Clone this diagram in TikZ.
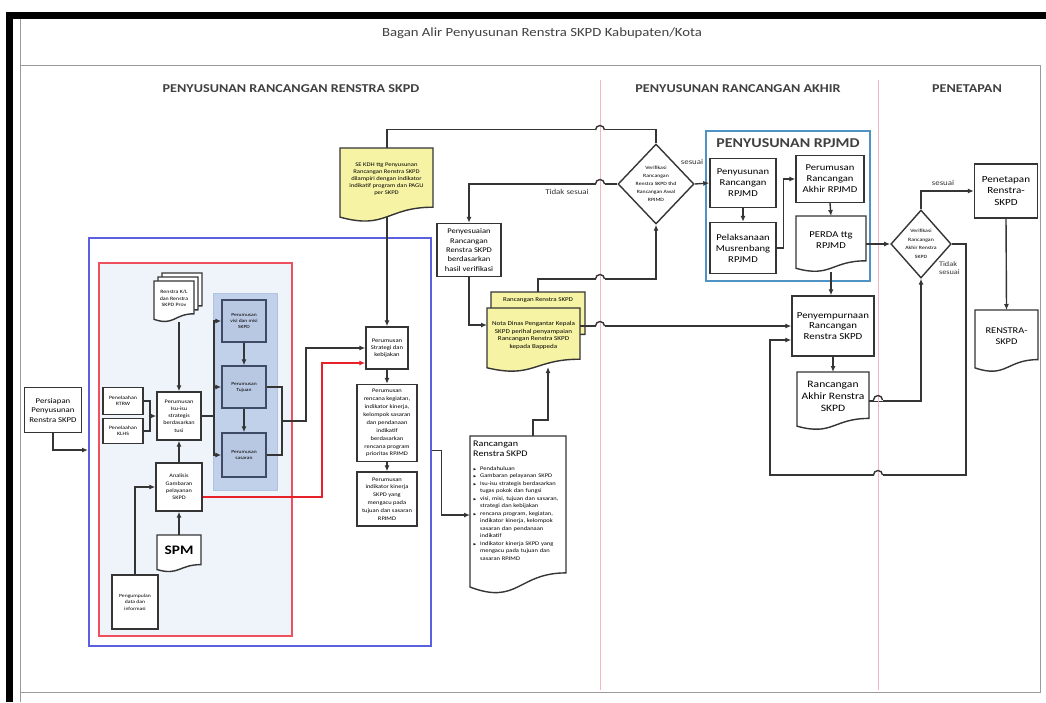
\documentclass[tikz,border=0pt]{standalone}
\usepackage{fontspec}
\setmainfont{Carlito}[FakeStretch=1.18]
\usepackage{amssymb}
\usepackage{graphicx}
\usetikzlibrary{arrows.meta,calc,shapes.geometric}
\definecolor{lnc}{HTML}{353535}
\definecolor{pinkln}{HTML}{F2B8C2}
\definecolor{bluec}{HTML}{5A60E0}
\definecolor{redc}{HTML}{F0505E}
\definecolor{redln}{HTML}{E8202A}
\definecolor{lightfill}{HTML}{EEF4FA}
\definecolor{panelfill}{HTML}{C2D1EA}
\definecolor{panelln}{HTML}{B0C3E2}
\definecolor{innerfill}{HTML}{B9C8E2}
\definecolor{innerln}{HTML}{3E4A66}
\definecolor{yellowfill}{HTML}{F7F3A4}
\definecolor{rpjmdln}{HTML}{4F92C4}
\definecolor{titlec}{HTML}{404040}
\definecolor{framegray}{HTML}{9A9A9A}
\newcommand\fsz[2]{\fontsize{#1}{#2}\selectfont}
\newcommand\docshape[8]{%
  \pgfmathsetmacro\dH{min(#5-#3,1.1*(#4-#2))}%
  \path[docline, fill=#6] (#2,#3) -- (#4,#3) -- (#4,{#5-0.2*\dH})
    .. controls ({(#2+#4)/2},{#5-0.2*\dH}) and ({(#2+#4)/2},{#5+0.107*\dH}) ..
    (#2,{#5-0.066*\dH}) -- cycle;
  \node[inner sep=0, outer sep=0, minimum width={(#4-#2)*1pt}, minimum height={(#5-#3)*1pt}, anchor=north west] (#1) at (#2,#3) {};
  \node[align=center, inner sep=0, font=#7] (#1-t) at ({(#2+#4)/2},{(#3+#5-0.15*\dH)/2}) {#8};
}
\newcommand\hop[2]{%
  \fill[white] ({#1-4.5},{#2-1.2}) rectangle ({#1+4.5},{#2+1.2});
  \draw[pinkln, line width=0.8pt] (#1,{#2-2}) -- (#1,{#2+2});
  \draw[lnk] ({#1-4.5},#2) arc (180:360:4.5);
}
\newcommand\bul{\hangindent=7pt\hangafter=1\noindent\makebox[7pt][l]{\scalebox{0.6}{$\blacktriangleright$}}}
\tikzset{
  lnk/.style={draw=lnc, line width=1.4pt},
  arr/.style={lnk, -{Latex[length=6pt,width=5pt]}},
  arrred/.style={draw=redln, line width=1.4pt, -{Latex[length=6pt,width=5pt]}},
  box/.style={draw=lnc, line width=1.4pt, fill=white, align=center, inner sep=1pt},
  pbox/.style={box, fill=innerfill, draw=innerln},
  docline/.style={draw=lnc, line width=1.4pt},
  lbl/.style={font=\fsz{7.5}{8.5}, inner sep=1pt, text=lnc, align=left},
  head/.style={font=\bfseries\fsz{12}{14}, text=titlec},
  dia/.style={diamond, draw=lnc, line width=1.4pt, fill=white, inner sep=0, align=center},
}
\begin{document}
\begin{tikzpicture}[x=1pt,y=-1pt]
\useasboundingbox (0,0) rectangle (1046,702);
\fill[white] (0,0) rectangle (1046,702);
% outer frame
\fill[black] (6,12) rectangle (1046,19);
\fill[black] (6,12) rectangle (13,702);
\draw[framegray, line width=0.8pt] (20,19) -- (20,702);
\draw[framegray, line width=0.8pt] (20,65) rectangle (1040,692);
\node[font=\fsz{12.5}{14}, text=titlec] (title) at (542,33) {Bagan Alir Penyusunan Renstra SKPD Kabupaten/Kota};
% headings
\node[head] (h1) at (291,89) {PENYUSUNAN RANCANGAN RENSTRA SKPD};
\node[head] (h2) at (738,89) {PENYUSUNAN RANCANGAN AKHIR};
\node[head] (h3) at (967,89) {PENETAPAN};
\draw[pinkln, line width=0.8pt] (600,80) -- (600,690);
\draw[pinkln, line width=0.8pt] (878,80) -- (878,690);

% frames
\node[draw=bluec, line width=1.5pt, minimum width=342pt, minimum height=408pt, anchor=north west, inner sep=0] (blueframe) at (88,237) {};
\node[draw=redc, fill=lightfill, line width=1.5pt, minimum width=193pt, minimum height=373pt, anchor=north west, inner sep=0] (redframe) at (98,262) {};
\node[fill=panelfill, draw=panelln, minimum width=64pt, minimum height=197pt, anchor=north west, inner sep=0] (panel) at (213,293) {};

% left part
\node[box, minimum width=57pt, minimum height=45pt, font=\fsz{7.4}{9.5}] (persiapan) at (53,410) {Persiapan\\Penyusunan\\Renstra SKPD};
\docshape{rkl3}{162}{273}{202}{314}{white}{}{}
\docshape{rkl2}{158}{277}{198}{318}{white}{}{}
\docshape{rkl}{154}{281}{194}{322}{white}{\fsz{5}{6.4}}{Renstra K/L\\dan Renstra\\SKPD Prov}
\node[box, minimum width=40pt, minimum height=27pt, font=\fsz{5}{6.5}] (rtrw) at (123,401) {Penelaahan\\RTRW};
\node[box, minimum width=40pt, minimum height=25pt, font=\fsz{5}{6.5}] (klhs) at (123,431) {Penelaahan\\KLHS};
\node[box, minimum width=44pt, minimum height=48pt, font=\fsz{5.3}{7.3}] (isu) at (179,416) {Perumusan\\Isu-isu\\strategis\\berdasarkan\\tusi};
\node[box, minimum width=46pt, minimum height=48pt, font=\fsz{5.3}{7.3}] (analisis) at (179,487) {Analisis\\Gambaran\\pelayanan\\SKPD};
\docshape{spm}{157}{535}{201}{572}{white}{\bfseries\fsz{13}{14}}{SPM}
\node[box, minimum width=46pt, minimum height=54pt, font=\fsz{4.8}{6.5}] (pengumpulan) at (135,602) {Pengumpulan\\data dan\\informasi};
\node[pbox, minimum width=44pt, minimum height=42pt, font=\fsz{4.7}{6.2}] (visi) at (244,321) {Perumusan\\visi dan misi\\SKPD};
\node[pbox, minimum width=44pt, minimum height=42pt, font=\fsz{4.7}{6.2}] (tujuan) at (244,387) {Perumusan\\Tujuan};
\node[pbox, minimum width=44pt, minimum height=44pt, font=\fsz{4.7}{6.2}] (sasaran) at (244,455) {Perumusan\\sasaran};

\node[box, minimum width=42pt, minimum height=42pt, font=\fsz{5.6}{7}] (strategi) at (387,348) {Perumusan\\Strategi dan\\kebijakan};
\node[box, minimum width=60pt, minimum height=77pt, font=\fsz{5.5}{7.9}] (rencana) at (387,423) {Perumusan\\rencana kegiatan,\\indikator kinerja,\\kelompok sasaran\\dan pendanaan\\indikatif\\berdasarkan\\rencana program\\prioritas RPJMD};
\node[box, minimum width=60pt, minimum height=54pt, font=\fsz{5.5}{7.9}] (indikator) at (387,499) {Perumusan\\indikator kinerja\\SKPD yang\\mengacu pada\\tujuan dan sasaran\\RPJMD};

% middle
\node[dia, minimum width=74pt, minimum height=80pt, font=\fsz{4.9}{8}] (d1) at (656,184) {Verifikasi\\Rancangan\\Renstra SKPD thd\\Rancangan Awal\\RPJMD};
\draw[arr] (d1.north) -- ++(0,-14) -| (strategi.north);
\docshape{se}{340}{148}{433}{222}{yellowfill}{\fsz{5.6}{7}}{SE KDH ttg Penyusunan\\Rancangan Renstra SKPD\\dilampiri dengan indikator\\indikatif program dan PAGU\\per SKPD}
\node[box, minimum width=64pt, minimum height=53pt, font=\fsz{7.2}{9.4}] (penyesuaian) at (469,250) {Penyesuaian\\Rancangan\\Renstra SKPD\\berdasarkan\\hasil verifikasi};
\docshape{rrs}{491}{292}{585}{345}{yellowfill}{}{}
\node[font=\fsz{5.9}{7}, inner sep=0] (rrs-lbl) at (538,300) {Rancangan Renstra SKPD};
\docshape{nota}{487}{308}{580}{372}{yellowfill}{\fsz{6}{7.6}}{Nota Dinas Pengantar Kepala\\SKPD perihal penyampaian\\Rancangan Renstra SKPD\\kepada Bappeda}
\coordinate (nb) at (548,367);
\docshape{bigdoc}{470}{436}{566}{594}{white}{}{}
\node[anchor=north west, text width=93pt, inner sep=0, font=\fsz{5.5}{7.5}] (bigtext) at (473,441) {\raggedright{\fsz{8.6}{10}Rancangan\par Renstra SKPD\par}\vspace{6pt}
\bul Pendahuluan\par
\bul Gambaran pelayanan SKPD\par
\bul Isu-isu strategis berdasarkan tugas pokok dan fungsi\par
\bul visi, misi, tujuan dan sasaran, strategi dan kebijakan\par
\bul rencana program, kegiatan, indikator kinerja, kelompok sasaran dan pendanaan indikatif\par
\bul Indikator kinerja SKPD yang mengacu pada tujuan dan sasaran RPJMD\par};

% RPJMD group
\node[draw=rpjmdln, line width=1.6pt, minimum width=164pt, minimum height=150pt, anchor=north west, inner sep=0] (rpjmd) at (705,130) {};
\node[font=\bfseries\fsz{13.5}{15}, text=titlec] (rpjmdt) at (788,143) {PENYUSUNAN RPJMD};
\node[box, minimum width=66pt, minimum height=49pt, font=\fsz{9}{11}] (prr) at (743,183) {Penyusunan\\Rancangan\\RPJMD};
\node[box, minimum width=66pt, minimum height=51pt, font=\fsz{9}{11}] (pmr) at (743,248) {Pelaksanaan\\Musrenbang\\RPJMD};
\node[box, minimum width=68pt, minimum height=47pt, font=\fsz{9}{11}] (pra) at (830,179) {Perumusan\\Rancangan\\Akhir RPJMD};
\docshape{perda}{796}{216}{866}{272}{white}{\fsz{9}{11}}{PERDA ttg\\RPJMD}

\node[box, minimum width=82pt, minimum height=60pt, font=\fsz{9.2}{10.5}] (penyempurnaan) at (833,326) {Penyempurnaan\\Rancangan\\Renstra SKPD};
\docshape{rar}{797}{372}{869}{430}{white}{\fsz{9.8}{12}}{Rancangan\\Akhir Renstra\\SKPD}
\node[dia, minimum width=57pt, minimum height=68pt, font=\fsz{4.9}{8.5}] (d2) at (921,244) {Verifikasi\\Rancangan\\Akhir Renstra\\SKPD};
\node[box, minimum width=63pt, minimum height=54pt, font=\fsz{9.4}{11.5}] (penetapan) at (1006,191) {Penetapan\\Renstra-\\SKPD};
\docshape{renstra}{975}{310}{1038}{372}{white}{\fsz{8.8}{11.5}}{RENSTRA-\\SKPD}

% connectors left
\draw[arr] (persiapan.south) |- (blueframe.west |- 0,450);
\draw[arr] (isu.north |- rkl.south) -- (isu.north);
\coordinate (j1) at (150,416);
\draw[lnk] (rtrw.east) -| (j1);
\draw[lnk] (klhs.east) -| (j1);
\draw[arr] (j1) -- (isu.west);
\draw[arr] (spm.north) -- (analisis.south);
\draw[arr] (analisis.north) -- (isu.south);
\draw[arr] (pengumpulan.north) |- (analisis.west);
\coordinate (bus) at (214,416);
\draw[lnk] (isu.east) -- (bus);
\draw[arr] (bus) |- (visi.west);
\draw[arr] (bus) |- (tujuan.west);
\draw[arr] (bus) |- (sasaran.west);
\draw[arr] (visi.south) -- (tujuan.north);
\draw[arr] (tujuan.south) -- (sasaran.north);
\coordinate (rb) at (282,421);
\draw[lnk] (tujuan.east) -| (rb);
\draw[lnk] (sasaran.east) -| (rb);
\draw[arr] (rb) -- ++(24,0) |- (strategi.west);
\coordinate (rc) at (322,363);
\draw[arrred] ($(analisis.east)+(0,10)$) -| (rc) -- (strategi.west |- rc);
\draw[arr] (strategi.south) -- (rencana.north);
\draw[arr] (rencana.south) -- (indikator.north);
\draw[arr] ($(blueframe.east)+(0,9)$) -- ++(10,0) |- (bigdoc.west);
% connectors middle
\draw[arr] (d1.west) -| (penyesuaian.north);
\node[lbl] (tslbl) at (567,192) {Tidak sesuai};
\draw[arr] (penyesuaian.south) |- ($(nota.west)+(0,-15)$);
\draw[arr] (rrs.north) -- ++(0,-13) -| (d1.south);
\draw[arr] ($(bigdoc.north)+(15,0)$) -- ++(0,-16) -| (nb);
\draw[arr] (nota.east |- penyempurnaan.west) -- (penyempurnaan.west);
\draw[arr] (d1.east) -- (prr.west);
\node[lbl] (s1lbl) at (692,162) {sesuai};
\draw[arr] (prr.south) -- (pmr.north);
\draw[arr] (pmr.east) -- ++(7,0) |- (pra.west);
\draw[arr] (pra.south) -- (perda.north);
\draw[arr] (perda.south) -- (perda.south |- penyempurnaan.north);
\draw[arr] (perda.east) -- (d2.west);
\draw[arr] (penyempurnaan.south) -- (penyempurnaan.south |- rar.north);
\draw[arr] (rar.east) -| (d2.south);
\draw[arr] (d2.north) |- (penetapan.west);
\node[lbl] (s2lbl) at (943,183) {sesuai};
\coordinate (lp) at (770,475);
\draw[arr] (d2.east) -- ++(14,0) |- (lp) |- ($(penyempurnaan.west)+(0,14)$);
\node[lbl, anchor=east, font=\fsz{7}{8}] (ts2lbl) at (961,268) {Tidak\\sesuai};
\draw[arr] (penetapan.south) -- (renstra.north);
% line hops over the section separators
\hop{600}{130}
\hop{600}{184}
\hop{600}{279}
\hop{600}{326}
\hop{878}{400}
\hop{878}{475}
\end{tikzpicture}
\end{document}
